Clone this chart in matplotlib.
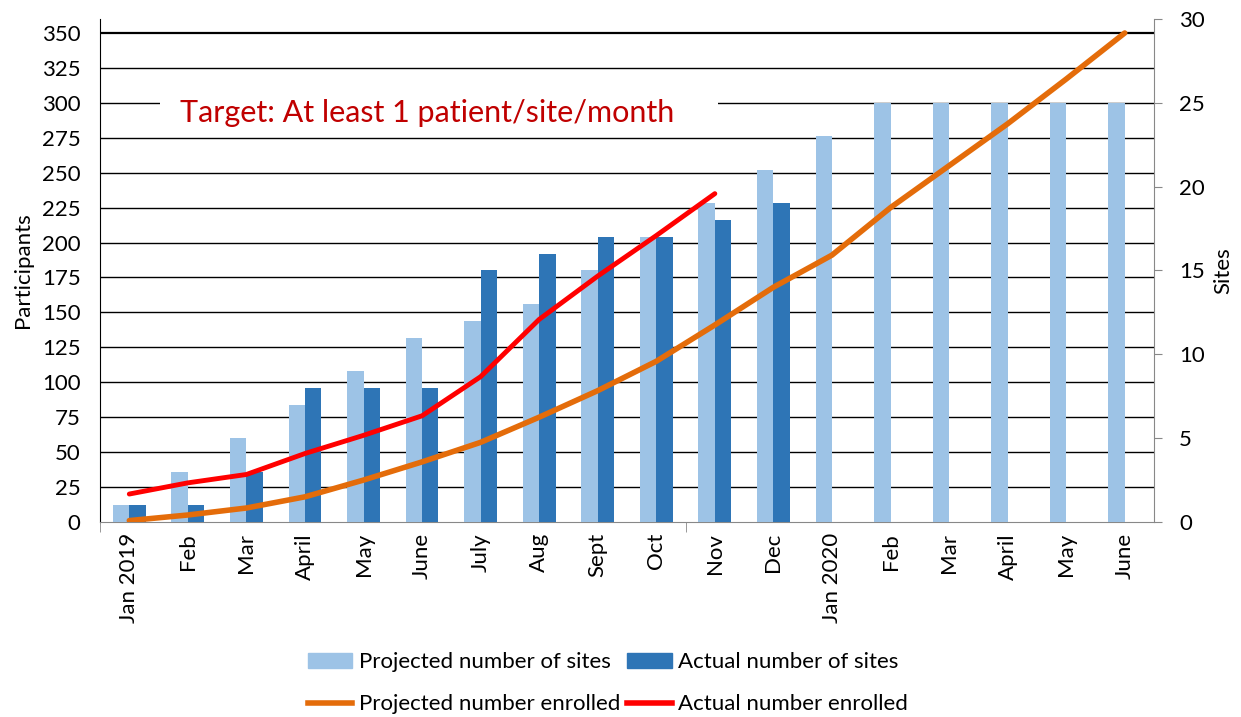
import numpy as np
import matplotlib
matplotlib.use("Agg")
from matplotlib import pyplot as plt
from matplotlib.lines import Line2D
from matplotlib.patches import Rectangle

plt.rcParams['font.family'] = ['Lato', 'DejaVu Sans']

months = ["Jan 2019", "Feb", "Mar", "April", "May", "June", "July", "Aug", "Sept",
          "Oct", "Nov", "Dec", "Jan 2020", "Feb", "Mar", "April", "May", "June"]

# sites (right axis)
projected_sites = [1, 3, 5, 7, 9, 11, 12, 13, 15, 17, 19, 21, 23, 25, 25, 25, 25, 25]
actual_sites = [1, 1, 3, 8, 8, 8, 15, 16, 17, 17, 18, 19]

# participants (left axis)
projected_enrolled = [1, 5, 10, 18, 30, 43, 57, 75, 94, 115, 141, 168,
                      191, 225, 255, 285, 317, 350]
actual_enrolled = [20, 28, 34, 49, 62, 76, 104, 145, 176, 205, 235]

c_light = "#9DC3E6"
c_dark = "#2E75B6"
c_orange = "#E46C0A"
c_red = "#FF0000"

fig = plt.figure(figsize=(12.41, 7.17), dpi=100)
ax = fig.add_axes([0.0806, 0.272, 0.8493, 0.7015])
ax2 = ax.twinx()

x = np.arange(len(months))
w = 0.28
ax2.bar(x[:len(projected_sites)] - w / 2, projected_sites, w, color=c_light, zorder=2)
ax2.bar(x[:len(actual_sites)] + w / 2, actual_sites, w, color=c_dark, zorder=2)

# lines must sit above bars -> draw on ax2 in left-axis units scaled by 12
scale = 360 / 30
ax2.plot(x[:len(projected_enrolled)], np.array(projected_enrolled) / scale,
         color=c_orange, lw=4, solid_capstyle="round", zorder=4)
ax2.plot(x[:len(actual_enrolled)], np.array(actual_enrolled) / scale,
         color=c_red, lw=3.5, solid_capstyle="round", zorder=5)

ax.set_xlim(-0.5, len(months) - 0.5)
ax.set_ylim(0, 360)
ax2.set_ylim(0, 30)
ax.set_yticks(np.arange(0, 351, 25))
ax2.set_yticks(np.arange(0, 31, 5))

# gridlines on left scale
for v in np.arange(25, 351, 25):
    ax.axhline(v, color="black", lw=1.6 if v == 350 else 1.0, zorder=0)

ax.set_xticks(x)
ax.set_xticklabels(months, rotation=90, fontsize=16)
ax.tick_params(axis="x", length=0, pad=8)
ax.set_xticks([-0.5, 9.5], minor=True)
ax.tick_params(axis="x", which="minor", length=7, color="#888888")
ax.tick_params(axis="y", length=0, labelsize=16, pad=14)
ax2.tick_params(axis="y", length=6, color="#888888", labelsize=16, pad=12)

for s in ["top"]:
    ax.spines[s].set_visible(False)
    ax2.spines[s].set_visible(False)
ax.spines["left"].set_color("black")
ax2.spines["left"].set_visible(False)
ax.spines["right"].set_visible(False)
ax2.spines["right"].set_color("#888888")
ax.spines["bottom"].set_color("#888888")
ax2.spines["bottom"].set_visible(False)

ax.set_ylabel("Participants", fontsize=16, labelpad=6)
ax2.set_ylabel("Sites", fontsize=16, labelpad=6)

# white text box hiding part of the 300 gridline
ax2.add_patch(Rectangle((0.53, 282 / scale), 9.53, 36 / scale, facecolor="white",
                        edgecolor="none", zorder=5.5))
ax2.text(0.86, 293 / scale, "Target: At least 1 patient/site/month", color="#C00000",
         fontsize=22, va="center", ha="left", zorder=6)

handles = [
    plt.Rectangle((0, 0), 1, 1, color=c_light),
    Line2D([], [], color=c_orange, lw=4),
    plt.Rectangle((0, 0), 1, 1, color=c_dark),
    Line2D([], [], color=c_red, lw=4),
]
labels = ["Projected number of sites", "Projected number enrolled",
          "Actual number of sites", "Actual number enrolled"]
fig.legend(handles, labels, ncol=2, loc="center", bbox_to_anchor=(0.49, 0.047),
           frameon=False, fontsize=16, handlelength=2.0, handletextpad=0.3,
           columnspacing=0.3, labelspacing=1.0)

fig.savefig("out.png", dpi=100)
